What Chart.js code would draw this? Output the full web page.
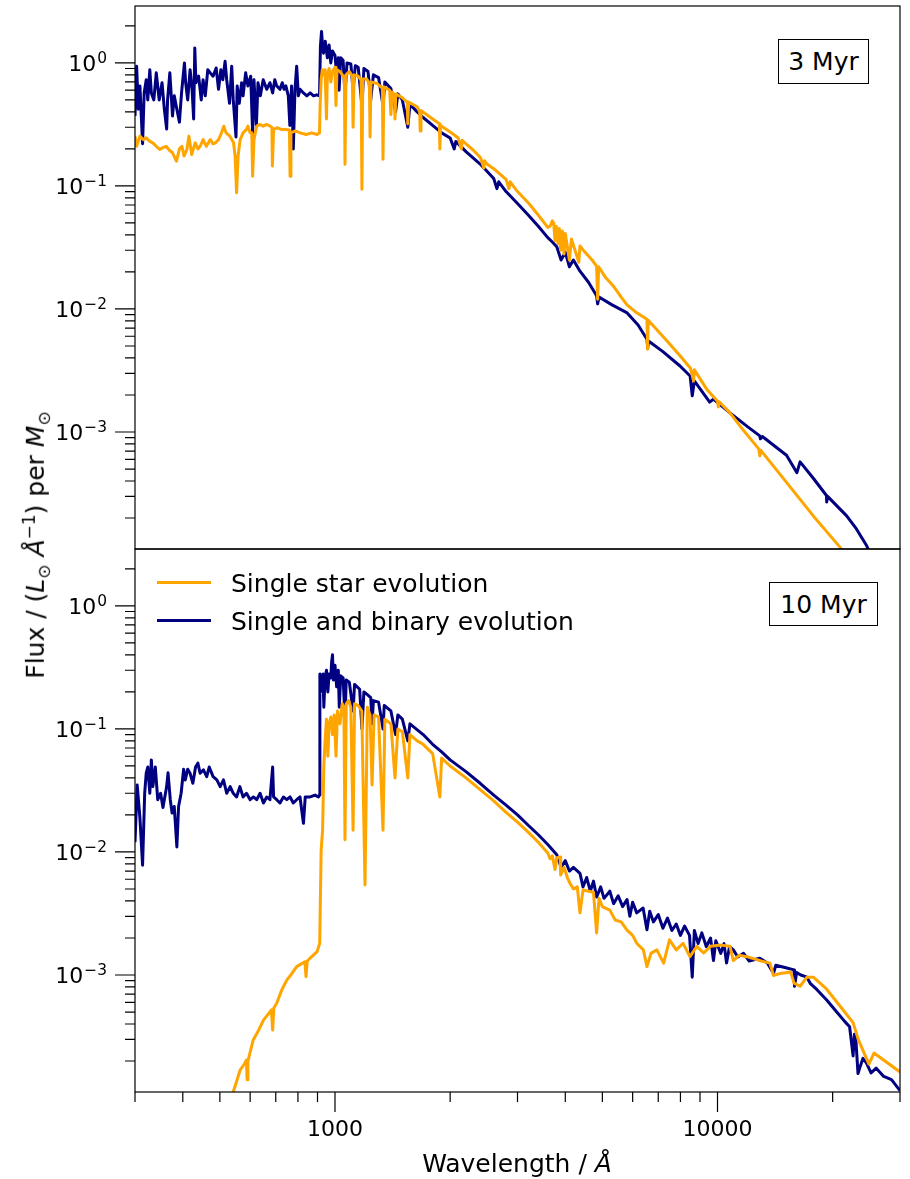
<!DOCTYPE html>
<html>
<head>
<meta charset="utf-8">
<script src="https://cdn.jsdelivr.net/npm/chart.js@4.4.0/dist/chart.umd.min.js"></script>
<style>
  body { margin: 0; background: #fff; }
  #fig { position: relative; width: 910px; height: 1179px; font-family: "DejaVu Sans", sans-serif; color: #000; overflow: hidden; }
  canvas { position: absolute; left: 0; }
  #chart3 { top: 0; }
  #chart10 { top: 546px; }
  .txt { position: absolute; white-space: nowrap; font-size: 25px; line-height: 1; }
  .box { position: absolute; box-sizing: border-box; border: 1.5px solid #000; background: #fff;
         display: flex; align-items: center; justify-content: center; font-size: 25px; line-height: 1; }
  .key { position: absolute; left: 157px; width: 54px; height: 2.8px; }
</style>
</head>
<body>
<div id="fig">
  <canvas id="chart3" width="910" height="552"></canvas>
  <canvas id="chart10" width="910" height="633"></canvas>

  <div class="box" style="left:778px;top:39px;width:91px;height:45px;">3 Myr</div>
  <div class="box" style="left:769px;top:582px;width:109px;height:44px;">10 Myr</div>

  <div class="key" style="top:581.3px;background:#FFA500;"></div>
  <div class="key" style="top:618.9px;background:#000080;"></div>
  <div class="txt" style="left:231px;top:571px;">Single star evolution</div>
  <div class="txt" style="left:231px;top:609px;">Single and binary evolution</div>

  <div class="txt" id="xlabel" style="left:517px;top:1151px;transform:translateX(-50%);">Wavelength / <i>Å</i></div>
  <div class="txt" id="ylabel" style="left:37px;top:545px;transform:translate(-50%,-50%) rotate(-90deg);">Flux / (<i>L</i><sub style="font-size:17px">⊙</sub> <i>Å</i><sup style="font-size:17px">−1</sup>) per <i>M</i><sub style="font-size:17px">⊙</sub></div>
</div>

<script>
// wavelength (Angstrom), flux per solar mass
const spec3Single = [
  [300,0.254],[303,0.21],[309,0.254],[315,0.238],[321,0.246],[328,0.23],[334,0.224],[341,0.21],[348,0.198],
  [355,0.205],[362,0.21],[369,0.195],[376,0.186],[385,0.159],[392,0.2],[398,0.21],[403,0.175],[410,0.198],
  [415,0.254],[422,0.18],[431,0.224],[438,0.2],[444,0.21],[452,0.238],[461,0.21],[472,0.238],[480,0.22],
  [487,0.224],[496,0.238],[505,0.27],[512,0.306],[519,0.27],[531,0.254],[543,0.224],[548,0.175],[553,0.088],
  [558,0.175],[565,0.238],[575,0.27],[587,0.288],[592,0.306],[600,0.27],[606,0.27],[609,0.12],[614,0.238],
  [624,0.306],[637,0.316],[649,0.306],[662,0.316],[677,0.306],[684,0.3],[686,0.145],[691,0.288],[706,0.297],
  [724,0.288],[744,0.288],[760,0.285],[763,0.12],[767,0.27],[787,0.28],[811,0.27],[840,0.262],[869,0.27],
  [898,0.262],[911,0.27],[914,0.44],[920,0.73],[926,0.88],[935,0.8],[942,0.88],[950,0.35],[955,0.8],
  [965,0.9],[975,0.7],[985,0.85],[1000,0.92],[1006,0.45],[1012,0.88],[1030,0.85],[1045,0.8],[1058,0.75],
  [1062,0.15],[1068,0.8],[1090,0.85],[1110,0.78],[1115,0.3],[1122,0.8],[1150,0.78],[1170,0.72],[1176,0.094],
  [1182,0.74],[1210,0.74],[1230,0.68],[1235,0.25],[1242,0.7],[1290,0.68],[1330,0.62],[1335,0.165],[1342,0.64],
  [1390,0.6],[1400,0.38],[1410,0.58],[1430,0.55],[1435,0.35],[1442,0.56],[1500,0.52],[1545,0.48],[1550,0.32],
  [1558,0.48],[1640,0.44],[1665,0.4],[1670,0.28],[1678,0.41],[1800,0.35],[1875,0.32],[1880,0.2],[1888,0.31],
  [2000,0.275],[2100,0.245],[2140,0.2],[2150,0.235],[2200,0.22],[2300,0.195],[2400,0.17],[2450,0.14],
  [2460,0.16],[2500,0.15],[2600,0.138],[2800,0.113],[2850,0.095],[2870,0.108],
  [3000,0.09],[3200,0.073],[3400,0.058],[3600,0.046],[3650,0.047],[3700,0.052],[3730,0.05],[3760,0.036],
  [3790,0.047],[3830,0.034],[3860,0.045],[3890,0.03],[3930,0.043],[3970,0.028],[4000,0.041],[4100,0.025],
  [4150,0.037],[4340,0.024],[4370,0.0325],[4500,0.029],[4700,0.025],[4830,0.0223],[4860,0.012],[4890,0.022],
  [5100,0.018],[5340,0.0154],[5600,0.0125],[5800,0.0108],[6150,0.0093],[6540,0.00825],[6565,0.0047],
  [6590,0.0081],[7000,0.0066],[7500,0.0052],[7980,0.00416],[8500,0.0033],[8660,0.0026],[8700,0.0032],
  [9370,0.00223],[10000,0.00178],[10050,0.0016],[10100,0.00176],[10780,0.00143],[11500,0.0011],
  [12820,0.00073],[12900,0.00064],[12980,0.00071],[15150,0.00039],[17800,0.000208],[20900,0.000116],
  [22500,0.00008]
];

const spec3Binary = [
  [300,0.37],[303,0.94],[306,0.42],[309,0.65],[314,0.22],[317,0.57],[321,0.73],[324,0.5],[328,0.88],
  [331,0.57],[336,0.5],[341,0.83],[347,0.5],[353,0.69],[358,0.42],[363,0.29],[365,0.5],[370,0.83],[376,0.37],
  [380,0.54],[386,0.42],[392,0.33],[397,0.57],[404,1.0],[407,0.69],[412,0.5],[418,0.88],[423,0.61],[427,0.35],
  [430,1.32],[433,0.69],[440,0.78],[447,0.5],[452,0.73],[458,0.54],[465,0.88],[472,0.83],[480,0.78],[489,0.91],
  [496,0.61],[503,0.88],[509,0.73],[516,1.03],[521,0.73],[530,0.47],[537,0.94],[542,0.5],[551,0.25],[555,0.65],
  [562,0.47],[570,0.69],[575,0.54],[584,0.83],[592,0.65],[602,0.78],[609,0.27],[614,0.73],[623,0.31],[629,0.69],
  [638,0.54],[649,0.73],[663,0.61],[676,0.69],[687,0.57],[696,0.73],[704,0.65],[718,0.61],[728,0.69],[736,0.61],
  [744,0.65],[755,0.54],[762,0.31],[770,0.65],[778,0.2],[786,0.61],[794,0.94],[802,0.54],[810,0.61],[827,0.57],
  [844,0.54],[861,0.57],[879,0.54],[896,0.55],[911,0.54],[916,1.36],[922,1.8],[926,1.5],[933,1.2],[943,1.5],
  [955,1.1],[965,1.4],[975,1.0],[985,1.25],[1000,1.15],[1010,0.8],[1020,1.1],[1025,0.6],[1035,1.1],[1050,1.05],
  [1062,0.55],[1075,1.0],[1100,0.98],[1115,0.6],[1130,0.95],[1150,0.92],[1176,0.45],[1190,0.9],[1220,0.85],
  [1240,0.5],[1260,0.8],[1300,0.76],[1335,0.45],[1350,0.7],[1400,0.62],[1440,0.4],[1460,0.56],[1500,0.5],
  [1550,0.3],[1570,0.46],[1640,0.4],[1700,0.36],[1800,0.31],[1900,0.27],[2000,0.245],[2050,0.2],[2070,0.23],
  [2200,0.19],[2400,0.15],[2600,0.115],[2650,0.095],[2680,0.108],[2800,0.09],[3000,0.072],[3200,0.058],
  [3400,0.047],[3600,0.038],[3700,0.035],[3800,0.032],
  [3900,0.025],[4000,0.029],[4100,0.022],[4200,0.025],[4370,0.0203],[4600,0.0165],[4830,0.0128],[4860,0.011],
  [4900,0.0125],[5300,0.0108],[5790,0.00935],[6200,0.0074],[6540,0.00568],[6570,0.0048],[6600,0.0055],
  [7200,0.0045],[7980,0.00344],[8480,0.00285],[8590,0.00197],[8700,0.0026],[9540,0.00175],[9760,0.00185],
  [10780,0.00143],[12000,0.0011],[12900,0.00093],[12950,0.00088],[13100,0.00092],[15150,0.000647],
  [16130,0.000467],[16440,0.000572],[17800,0.000421],[19270,0.000305],[19300,0.00027],[19400,0.0003],
  [21760,0.000208],[23080,0.000163],[24550,0.000119],[25500,0.00009]
];

const spec10Single = [
  [530,0.00009],[542,0.000112],[565,0.000169],[580,0.00019],[587,0.000204],[589,0.000141],[592,0.0002],
  [611,0.000296],[630,0.00035],[650,0.00043],[665,0.00047],[682,0.00052],[687,0.000357],[692,0.00054],
  [704,0.00059],[725,0.00075],[748,0.00091],[770,0.00102],[794,0.00117],[834,0.00128],[840,0.00097],
  [846,0.0013],[869,0.00141],[898,0.00155],[912,0.00181],[920,0.0104],[928,0.015],[935,0.05],[942,0.08],
  [950,0.12],[958,0.06],[965,0.11],[975,0.125],[985,0.09],[995,0.13],[1006,0.06],[1015,0.14],[1030,0.11],
  [1045,0.16],[1055,0.15],[1062,0.0126],[1070,0.16],[1085,0.17],[1100,0.15],[1115,0.015],[1125,0.16],
  [1150,0.155],[1175,0.14],[1198,0.0054],[1215,0.15],[1235,0.13],[1250,0.035],[1265,0.13],[1300,0.125],
  [1335,0.015],[1350,0.12],[1400,0.11],[1435,0.04],[1460,0.1],[1500,0.095],[1550,0.04],[1570,0.09],
  [1640,0.08],[1700,0.075],[1800,0.063],[1880,0.028],[1900,0.058],[2000,0.05],[2200,0.04],[2400,0.032],
  [2600,0.026],[2800,0.021],[3000,0.0175],[3200,0.0145],[3400,0.012],[3600,0.0098],[3650,0.0088],
  [3700,0.0093],[3760,0.0072],[3800,0.009],[3876,0.0091],[3890,0.0065],[3970,0.0075],[4050,0.0062],
  [4110,0.0056],[4200,0.005],[4300,0.0052],[4370,0.0032],[4450,0.0049],[4600,0.0048],[4740,0.0047],
  [4830,0.0022],[4900,0.0042],[5000,0.0036],[5230,0.00337],[5400,0.0028],[5600,0.0027],[5800,0.00232],
  [6000,0.0021],[6150,0.00181],[6400,0.0016],[6540,0.00117],[6700,0.0015],[6940,0.0016],[7230,0.00125],
  [7490,0.00193],[7800,0.0016],[8130,0.00181],[8470,0.00141],[8830,0.00171],[9200,0.00151],[9590,0.00171],
  [10200,0.00175],[10780,0.00171],[11000,0.00131],[11400,0.00145],[11930,0.00141],[13000,0.0013],
  [13710,0.00125],[14010,0.00099],[14600,0.00103],[15530,0.00106],[15850,0.00086],[16440,0.00081],
  [17130,0.00096],[17800,0.00096],[19270,0.00077],[21000,0.00055],[22620,0.00041],[23330,0.0003],
  [24880,0.000189],[25650,0.000232],[30000,0.000163]
];

const spec10Binary = [
  [300,0.012],[304,0.035],[309,0.019],[314,0.0078],[318,0.03],[321,0.044],[324,0.049],[328,0.03],[331,0.056],
  [334,0.034],[339,0.049],[344,0.0266],[350,0.03],[355,0.023],[363,0.034],[366,0.044],[371,0.0266],[375,0.0207],
  [380,0.0234],[386,0.011],[390,0.0234],[396,0.03],[402,0.047],[406,0.0385],[412,0.047],[418,0.0436],
  [425,0.0362],[432,0.049],[438,0.0527],[444,0.0436],[453,0.0465],[462,0.041],[469,0.049],[480,0.041],
  [491,0.0385],[501,0.034],[511,0.0385],[521,0.03],[532,0.034],[542,0.03],[553,0.028],[564,0.034],[575,0.028],
  [587,0.03],[600,0.0266],[612,0.028],[624,0.0266],[637,0.03],[650,0.025],[663,0.028],[676,0.0266],[687,0.049],
  [691,0.028],[704,0.0266],[718,0.025],[733,0.028],[748,0.0266],[763,0.028],[778,0.025],[794,0.0266],[810,0.028],
  [827,0.0171],[836,0.028],[861,0.028],[887,0.029],[905,0.028],[911,0.029],[913,0.28],[916,0.2],[920,0.27],
  [925,0.22],[930,0.28],[935,0.15],[942,0.26],[950,0.3],[958,0.2],[965,0.28],[975,0.26],[980,0.35],[985,0.4],
  [990,0.25],[1000,0.33],[1010,0.22],[1020,0.3],[1026,0.15],[1035,0.27],[1050,0.26],[1062,0.12],[1070,0.25],
  [1090,0.24],[1115,0.14],[1125,0.23],[1160,0.21],[1176,0.1],[1190,0.2],[1215,0.19],[1240,0.18],[1250,0.11],
  [1260,0.17],[1300,0.165],[1335,0.1],[1345,0.155],[1400,0.14],[1440,0.09],[1460,0.13],[1500,0.12],[1550,0.08],
  [1570,0.11],[1650,0.097],[1700,0.09],[1800,0.075],[1900,0.065],[2000,0.056],[2200,0.045],[2400,0.036],
  [2600,0.029],[2800,0.024],[3000,0.02],[3200,0.0165],[3400,0.0138],[3600,0.0115],[3800,0.0095],[3900,0.0075],
  [4000,0.0085],[4100,0.007],[4200,0.0075],[4370,0.0067],[4450,0.0052],[4550,0.0062],[4650,0.0048],
  [4740,0.0058],[4830,0.0043],[4950,0.0052],[5050,0.0042],[5230,0.0048],[5350,0.0038],[5500,0.0044],
  [5650,0.0036],[5800,0.0041],[5900,0.003],[6000,0.0039],[6150,0.0032],[6390,0.0035],[6540,0.00233],
  [6650,0.0033],[6800,0.0027],[7000,0.0031],[7200,0.0024],[7400,0.0029],[7600,0.0023],[7800,0.0026],
  [8000,0.0021],[8200,0.0025],[8450,0.0021],[8590,0.00096],[8700,0.0023],[8900,0.0018],[9100,0.0022],
  [9350,0.0017],[9590,0.002],[9760,0.00131],[9900,0.0019],[10200,0.0015],[10400,0.0018],[10560,0.00125],
  [10750,0.0017],[11000,0.0016],[11300,0.0014],[11700,0.0015],[12100,0.0013],[12900,0.00137],[13500,0.00125],
  [14010,0.00103],[14200,0.0012],[15000,0.00115],[15850,0.0011],[15900,0.00081],[16100,0.00105],[16500,0.001],
  [17130,0.00096],[17500,0.00085],[18200,0.00076],[19270,0.00063],[20500,0.0005],[21500,0.00042],
  [22150,0.00038],[22620,0.00022],[22800,0.00033],[23000,0.0003],[23300,0.000158],[23600,0.00018],
  [24000,0.00021],[24500,0.000193],[25200,0.00016],[26000,0.000175],[27200,0.00015],[28500,0.000141],
  [30000,0.000115]
];

const seriesLabels = ['Single star evolution', 'Single and binary evolution'];
const seriesColors = ['#FFA500', '#000080'];

const xMajorTicks = [1000, 10000];
const xTickLabels = ['1000', '10000'];
const yMajorTicks = [1e-3, 1e-2, 1e-1, 1];
const yTickExponents = ['\u22123', '\u22122', '\u22121', '0'];

const xRange = [300, 30000];
const yRange = [1.12e-4, 2.9];

function minorTicks(lo, hi) {
  const out = [];
  for (let e = -5; e <= 5; e++) {
    for (let m = 2; m <= 9; m++) {
      const v = m * Math.pow(10, e);
      if (v >= lo * 0.999 && v <= hi * 1.001) out.push(v);
    }
  }
  return out;
}

const mplAxes = {
  id: 'mplAxes',
  afterDatasetsDraw(chart, args, opts) {
    const { ctx, chartArea: a, scales: { x, y } } = chart;
    ctx.save();
    ctx.strokeStyle = '#000';
    ctx.fillStyle = '#000';
    ctx.lineWidth = 1.2;
    ctx.strokeRect(a.left, a.top, a.right - a.left, a.bottom - a.top);

    ctx.beginPath();
    minorTicks(yRange[0], yRange[1]).forEach(v => {
      const py = y.getPixelForValue(v);
      ctx.moveTo(a.left - 10, py); ctx.lineTo(a.left, py);
    });
    yMajorTicks.forEach(v => {
      const py = y.getPixelForValue(v);
      ctx.moveTo(a.left - 20, py); ctx.lineTo(a.left, py);
    });
    if (opts.xTicks) {
      minorTicks(xRange[0], xRange[1]).forEach(v => {
        const px = x.getPixelForValue(v);
        ctx.moveTo(px, a.bottom); ctx.lineTo(px, a.bottom + 10);
      });
      xMajorTicks.forEach(v => {
        const px = x.getPixelForValue(v);
        ctx.moveTo(px, a.bottom); ctx.lineTo(px, a.bottom + 20);
      });
    }
    ctx.stroke();

    // y tick labels: 10 with a raised exponent
    ctx.textAlign = 'right';
    ctx.textBaseline = 'alphabetic';
    yMajorTicks.forEach((v, i) => {
      const py = y.getPixelForValue(v);
      const right = a.left - 28;
      ctx.font = '15.4px "DejaVu Sans"';
      const w = ctx.measureText(yTickExponents[i]).width;
      ctx.fillText(yTickExponents[i], right, py);
      ctx.font = '22px "DejaVu Sans"';
      ctx.fillText('10', right - w - 1, py + 8.3);
    });

    if (opts.xTicks) {
      ctx.textAlign = 'center';
      ctx.font = '22px "DejaVu Sans"';
      xMajorTicks.forEach((v, i) => {
        ctx.fillText(xTickLabels[i], x.getPixelForValue(v), a.bottom + 44);
      });
    }
    ctx.restore();
  }
};

function toPoints(spec) {
  return spec.map(p => ({ x: p[0], y: p[1] }));
}

function makeChart(id, single, binary, padding, xTicks) {
  return new Chart(document.getElementById(id), {
    type: 'line',
    data: {
      datasets: [single, binary].map((spec, i) => ({
        label: seriesLabels[i],
        data: toPoints(spec),
        borderColor: seriesColors[i],
        backgroundColor: seriesColors[i],
        borderWidth: 3,
        borderJoinStyle: 'round',
        pointRadius: 0,
        tension: 0,
        fill: false,
        clip: 0
      }))
    },
    options: {
      responsive: false,
      animation: false,
      events: [],
      layout: { padding: padding },
      scales: {
        x: { type: 'logarithmic', min: xRange[0], max: xRange[1], display: false },
        y: { type: 'logarithmic', min: yRange[0], max: yRange[1], display: false }
      },
      plugins: {
        legend: { display: false },
        tooltip: { enabled: false },
        mplAxes: { xTicks: xTicks }
      }
    },
    plugins: [mplAxes]
  });
}

makeChart('chart3', spec3Single, spec3Binary, { left: 135, right: 10, top: 6, bottom: 3 }, false);
makeChart('chart10', spec10Single, spec10Binary, { left: 135, right: 10, top: 3, bottom: 87 }, true);
</script>
</body>
</html>
